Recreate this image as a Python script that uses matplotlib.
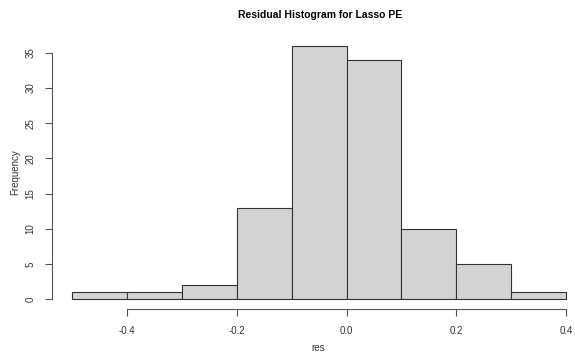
import numpy as np
import matplotlib
matplotlib.use("Agg")
import matplotlib.pyplot as plt

# histogram of residuals (R-style base graphics)
bin_edges = [-0.5, -0.4, -0.3, -0.2, -0.1, 0.0, 0.1, 0.2, 0.3, 0.4]
counts = [1, 1, 2, 13, 36, 34, 10, 5, 1]
x_ticks = [-0.4, -0.2, 0.0, 0.2, 0.4]
x_tick_labels = ["-0.4", "-0.2", "0.0", "0.2", "0.4"]
y_ticks = [0, 5, 10, 15, 20, 25, 30, 35]

plt.rcParams['font.family'] = ['Liberation Sans', 'DejaVu Sans']

W, H = 575, 353
fig = plt.figure(figsize=(W / 100, H / 100), dpi=100)
left, right, top, bottom = 52.4, 585.75, 35.8, 309.1
ax = fig.add_axes([left / W, 1 - bottom / H, (right - left) / W, (bottom - top) / H])

edges = np.array(bin_edges)
ax.bar(edges[:-1], counts, width=np.diff(edges), align='edge',
       color='#d3d3d3', edgecolor='#333333', linewidth=0.8)

ax.set_xlim(-0.536, 0.436)
ax.set_ylim(-1.44, 37.44)

for s in ['top', 'right']:
    ax.spines[s].set_visible(False)
ax.spines['left'].set_bounds(0, 35)
ax.spines['bottom'].set_bounds(-0.4, 0.4)
for s in ['left', 'bottom']:
    ax.spines[s].set_color('#555555')
    ax.spines[s].set_linewidth(0.8)

ax.set_xticks(x_ticks)
ax.set_xticklabels(x_tick_labels)
ax.set_yticks(y_ticks)
ax.set_yticklabels([str(v) for v in y_ticks], rotation=90, va='center')
ax.tick_params(axis='both', direction='out', length=5, width=0.8, color='#555555',
               labelsize=7, labelcolor='#333333', pad=7)

fig.text(15 / W, 1 - 172 / H, 'Frequency', rotation=90, ha='center', va='center',
         fontsize=7, color='#333333')
fig.text(318 / W, 1 - 348 / H, 'res', ha='center', va='center',
         fontsize=7, color='#333333')
fig.text(320 / W, 1 - 15 / H, 'Residual Histogram for Lasso PE', ha='center', va='center',
         fontsize=7.5, fontweight='bold', color='black')

fig.savefig('out.png', dpi=100)
